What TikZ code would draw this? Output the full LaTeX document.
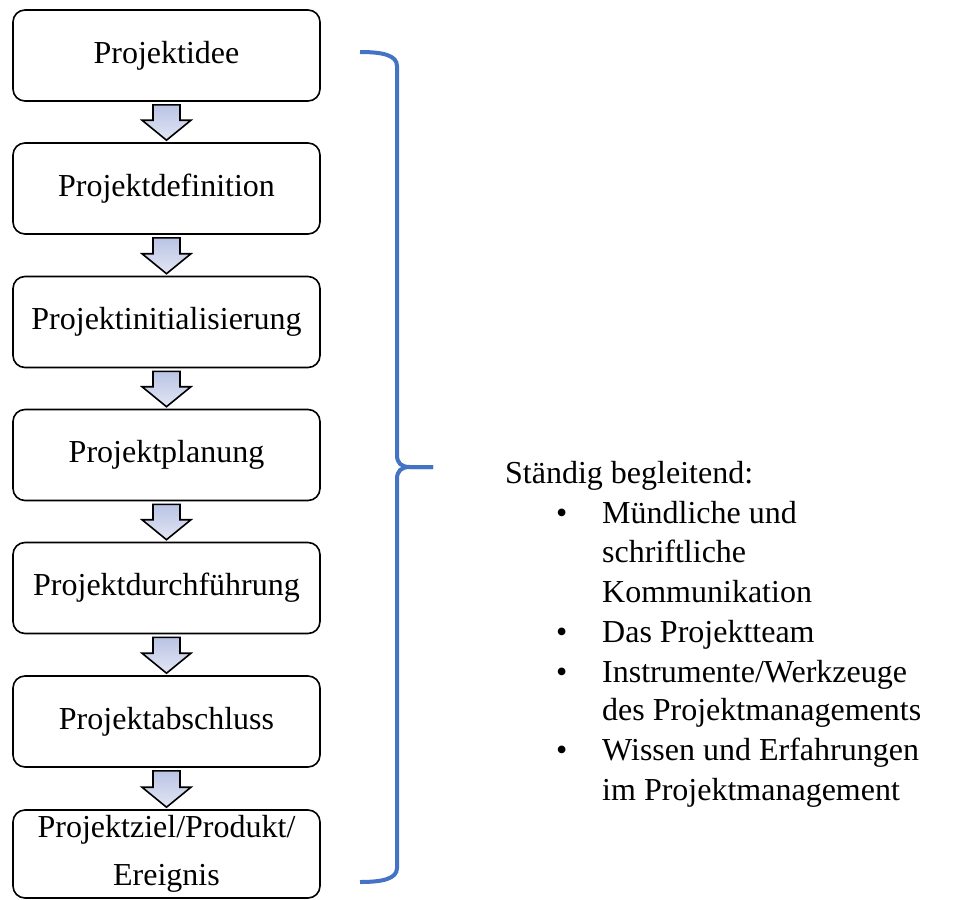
\documentclass[tikz,border=0pt]{standalone}
\usepackage{fontspec}
\setmainfont{Liberation Serif}
\usetikzlibrary{calc}
\definecolor{braceblue}{RGB}{68,114,196}
\definecolor{arrowtop}{RGB}{185,195,228}
\definecolor{arrowbot}{RGB}{226,230,244}
\tikzset{
  stepbox/.style={draw=black, line width=1.6pt, rounded corners=12pt,
    minimum width=307pt, inner sep=0pt, align=center,
    font=\fontsize{32}{48}\selectfont},
  blockarrow/.style={draw=black, line width=1.6pt, top color=arrowtop, bottom color=arrowbot},
  bracket/.style={draw=braceblue, line width=4pt, line cap=butt},
  sidetext/.style={anchor=base west, inner sep=0pt, font=\fontsize{32}{40}\selectfont}
}
\begin{document}
\begin{tikzpicture}[x=1pt,y=-1pt]
  \useasboundingbox (0,0) rectangle (963,899);

  % process steps
  \node[stepbox, minimum height=91pt] (s1) at (166.5,55.5) {Projektidee};
  \node[stepbox, minimum height=91pt] (s2) at (166.5,188.5) {Projektdefinition};
  \node[stepbox, minimum height=91pt] (s3) at (166.5,322) {Projektinitialisierung};
  \node[stepbox, minimum height=91pt] (s4) at (166.5,455) {Projektplanung};
  \node[stepbox, minimum height=91pt] (s5) at (166.5,588) {Projektdurchführung};
  \node[stepbox, minimum height=91pt] (s6) at (166.5,721.5) {Projektabschluss};
  \node[stepbox, minimum height=88pt] (s7) at (166.5,854) {Projektziel/Produkt/\\Ereignis};

  % block arrows between consecutive steps
  \foreach \a/\b in {s1/s2,s2/s3,s3/s4,s4/s5,s5/s6,s6/s7}{
    \coordinate (top) at ($(\a.south)+(0,3)$);
    \coordinate (tip) at ($(\b.north)+(0,-2)$);
    \path[blockarrow]
      ($(top)+(-13.5,0)$) -- ($(top)+(13.5,0)$) -- ($(tip)+(13.5,-20)$)
      -- ($(tip)+(24.5,-20)$) -- (tip) -- ($(tip)+(-24.5,-20)$)
      -- ($(tip)+(-13.5,-20)$) -- cycle;
  }

  % curly bracket spanning all steps
  \coordinate (btop) at (360,52);
  \coordinate (bmid) at (433,467);
  \coordinate (bbot) at (360,882);
  \draw[bracket] (btop) .. controls (382,52) and (397,55) .. (397,66)
    -- (397,455) .. controls (397,463) and (401,467) .. (410,467) -- (bmid);
  \draw[bracket] (bmid) -- (410,467) .. controls (401,467) and (397,471) .. (397,479)
    -- (397,868) .. controls (397,879) and (382,882) .. (bbot);

  % accompanying topics
  \node[sidetext] (head) at (505,483) {Ständig begleitend:};
  \foreach \y/\txt/\bul [count=\i] in {
      523/{Mündliche und}/1,
      562/{schriftliche}/0,
      602/{Kommunikation}/0,
      642/{Das Projektteam}/1,
      682/{Instrumente/Werkzeuge}/1,
      720/{des Projektmanagements}/0,
      760/{Wissen und Erfahrungen}/1,
      800/{im Projektmanagement}/0}{
    \node[sidetext] (item\i) at (602,\y) {\txt};
    \ifnum\bul=1
      \node[sidetext] (bullet\i) at (556,\y) {•};
    \fi
  }
\end{tikzpicture}
\end{document}
